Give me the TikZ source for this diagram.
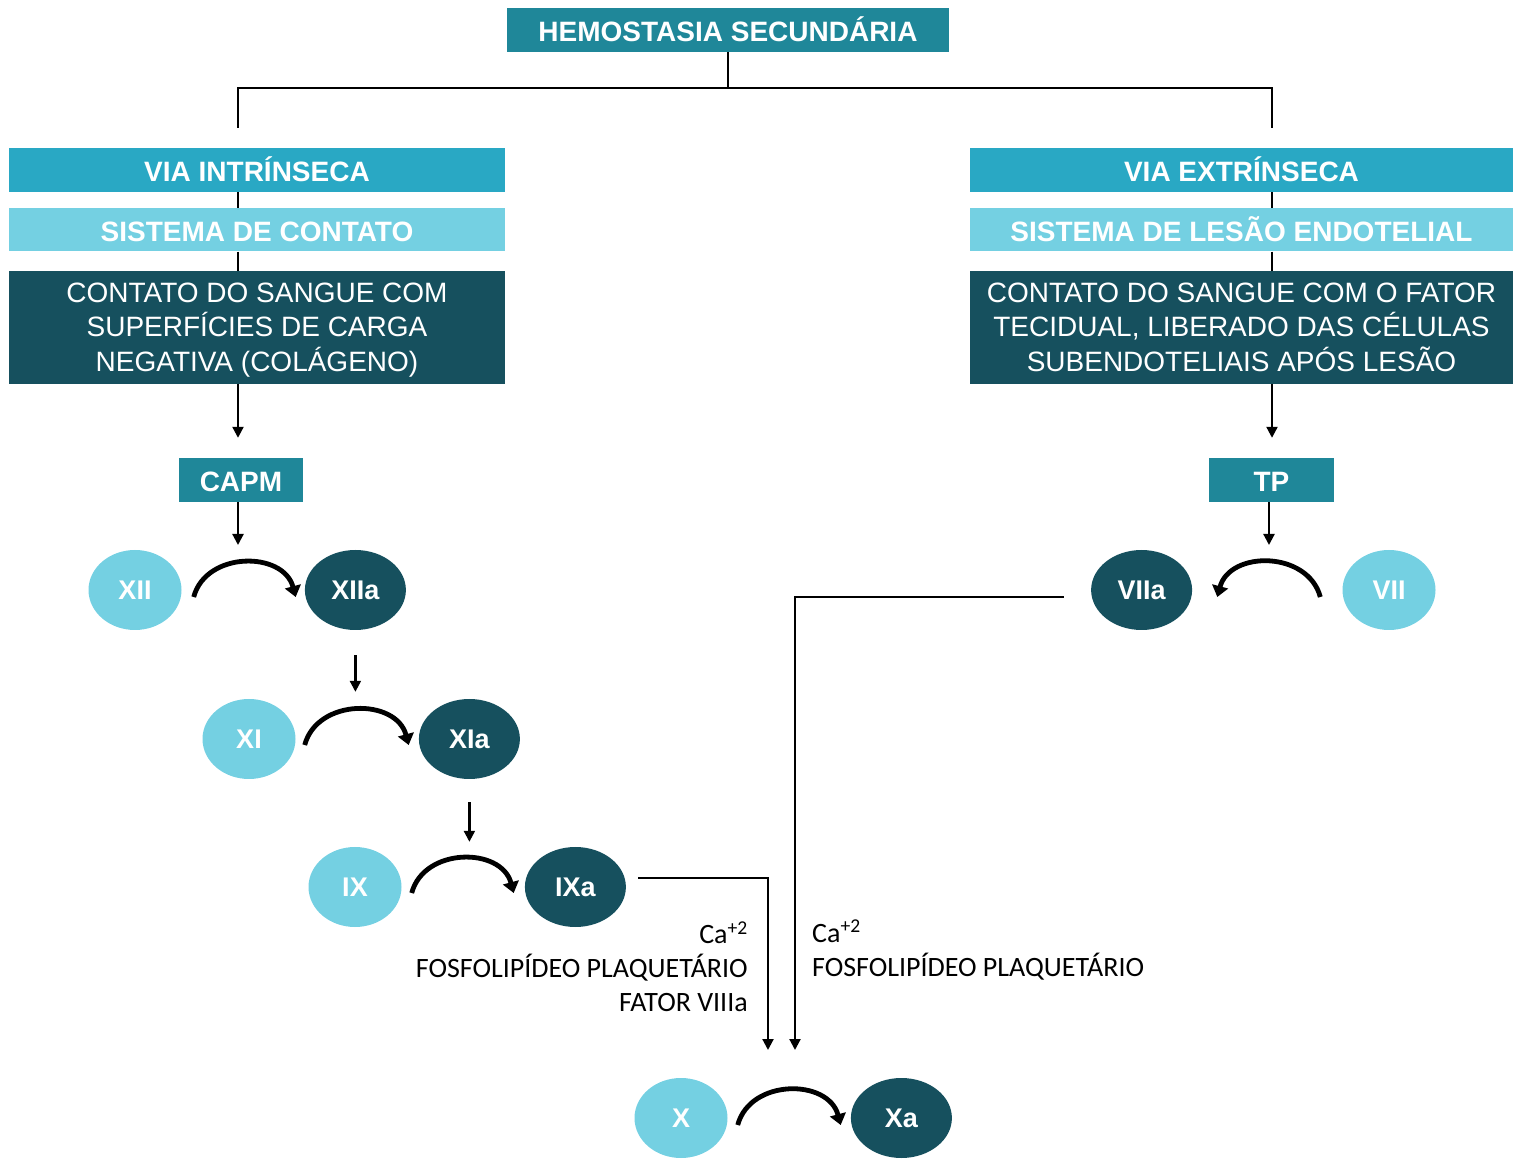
\documentclass[tikz,border=0pt]{standalone}
\usepackage{fontspec}
\setmainfont{Liberation Sans}
\newfontfamily\notefont{Carlito}
\usepackage{xcolor}
\usetikzlibrary{shapes.geometric, arrows.meta, positioning}

\definecolor{hemoteal}{RGB}{31,135,153}
\definecolor{viablue}{RGB}{41,168,196}
\definecolor{syslight}{RGB}{116,208,226}
\definecolor{deepteal}{RGB}{22,80,94}

\begin{document}
\begin{tikzpicture}[x=1pt, y=1pt,
        hdr/.style={rectangle, fill=hemoteal, text=white, inner sep=0pt, minimum height=44pt, text height=24pt, text depth=0pt, font=\bfseries\fontsize{28}{30}\selectfont},
        via/.style={hdr, fill=viablue},
        sys/.style={hdr, fill=syslight, minimum height=43pt},
        desc/.style={rectangle, fill=deepteal, text=white, inner sep=2pt, minimum height=113pt, align=center, font=\fontsize{28}{34.5}\selectfont},
        fac/.style={ellipse, fill=syslight, text=white, inner sep=0pt, minimum width=93pt, minimum height=80pt, text height=19pt, text depth=0pt, font=\bfseries\fontsize{27}{29}\selectfont},
        act/.style={fac, fill=deepteal, minimum width=101pt},
        link/.style={line width=2.2pt},
        arr/.style={link, -{Triangle[length=11pt, width=11pt]}},
        conv/.style={line width=4.8pt, -{Triangle[length=11pt, width=16pt]}, out=75, in=105, looseness=1.2},
        note/.style={font=\notefont\fontsize{28}{34}\selectfont, inner sep=0pt},
        node distance=123pt,
    ]
        \useasboundingbox (0,0) rectangle (1515,1160);

        \node[hdr, minimum width=442pt] (hemo) at (728,1130) {HEMOSTASIA SECUNDÁRIA};

        \node[via, minimum width=496pt] (intr) at (257,990) {VIA INTRÍNSECA};
        \node[sys, minimum width=496pt, below=16pt of intr] (contato) {SISTEMA DE CONTATO};
        \node[desc, minimum width=496pt, below=19pt of contato] (superf) {CONTATO DO SANGUE COM\\SUPERFÍCIES DE CARGA\\NEGATIVA \smash{(COLÁGENO)}};

        \node[via, minimum width=543pt] (extr) at (1241.5,990) {VIA EXTRÍNSECA};
        \node[sys, minimum width=543pt, below=16pt of extr] (lesao) {SISTEMA DE LESÃO ENDOTELIAL};
        \node[desc, minimum width=543pt, below=19pt of lesao] (tecid) {CONTATO DO SANGUE COM O FATOR\\TECIDUAL, LIBERADO DAS CÉLULAS\\SUBENDOTELIAIS APÓS LESÃO};

        \node[hdr, minimum width=124pt] (capm) at (241,680) {CAPM};
        \node[hdr, minimum width=125pt] (tp) at (1271.5,680) {TP};

        \node[fac] (xii) at (135,570) {XII};
        \node[act, right=of xii] (xiia) {XIIa};
        \node[fac] (xi) at (249,421) {XI};
        \node[act, right=of xi] (xia) {XIa};
        \node[fac] (ix) at (355,273) {IX};
        \node[act, right=of ix] (ixa) {IXa};
        \node[fac] (fx) at (681,42) {X};
        \node[act, right=of fx] (fxa) {Xa};
        \node[fac] (vii) at (1389,570) {VII};
        \node[act, left=150pt of vii] (viia) {VIIa};

        \node[note, align=right, anchor=east] (cofix) at (748,193) {Ca\textsuperscript{+2}\\FOSFOLIPÍDEO PLAQUETÁRIO\\FATOR VIIIa};
        \node[note, align=left, anchor=west] (cofvii) at (812,210) {Ca\textsuperscript{+2}\\FOSFOLIPÍDEO PLAQUETÁRIO};

        \coordinate (split) at (728,1072);
        \coordinate (lend) at (238,1032);
        \coordinate (rend) at (1272,1032);
        \coordinate (capmtip) at (238,615);
        \coordinate (tptip) at (1269,615);
        \coordinate (ixin) at (768,110);
        \coordinate (viiin) at (795,110);

        \draw[link] (hemo.south) -- (split);
        \draw[link] (lend) |- (split) -| (rend);
        \draw[link] (intr.south -| lend) -- (contato.north -| lend);
        \draw[link] (contato.south -| lend) -- (superf.north -| lend);
        \draw[link] (extr.south -| rend) -- (lesao.north -| rend);
        \draw[link] (lesao.south -| rend) -- (tecid.north -| rend);
        \draw[arr, shorten >=20pt] (superf.south -| lend) -- (capm.north -| lend);
        \draw[arr, shorten >=20pt] (tecid.south -| rend) -- (tp.north -| rend);
        \draw[arr] (capm.south -| capmtip) -- (capmtip);
        \draw[arr] (tp.south -| tptip) -- (tptip);

        \draw[conv] ([xshift=12pt, yshift=-7pt]xii.east) to ([xshift=-9pt, yshift=-7pt]xiia.west);
        \draw[conv] ([xshift=9pt, yshift=-6pt]xi.east) to ([xshift=-10pt, yshift=-6pt]xia.west);
        \draw[conv] ([xshift=10pt, yshift=-6pt]ix.east) to ([xshift=-11pt, yshift=-6pt]ixa.west);
        \draw[conv] ([xshift=10pt, yshift=-7pt]fx.east) to ([xshift=-10pt, yshift=-7pt]fxa.west);
        \draw[conv, out=105, in=75] ([xshift=-22pt, yshift=-7pt]vii.west) to ([xshift=25pt, yshift=-7pt]viia.east);

        \draw[arr, shorten <=25pt, shorten >=7pt] (xiia.south) -- (xiia.south |- xi.north);
        \draw[arr, shorten <=23pt, shorten >=5pt] (xia.south) -- (xia.south |- ix.north);

        \draw[arr] ([xshift=12pt, yshift=9pt]ixa.east) -| (ixin);
        \draw[arr] ([xshift=-27pt, yshift=-7pt]viia.west) -| (viiin);
    \end{tikzpicture}
\end{document}
